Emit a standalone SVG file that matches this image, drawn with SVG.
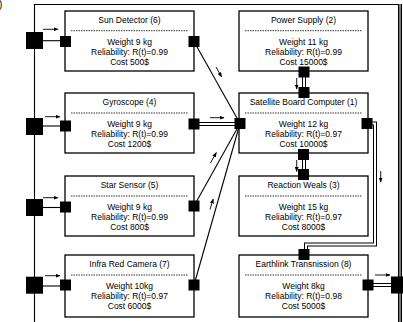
<svg xmlns="http://www.w3.org/2000/svg" width="403" height="322" viewBox="0 0 403 322">
  <style>
    .box { fill: #ffffff; stroke: #000000; stroke-width: 1.3; }
    .sep { stroke: #000000; stroke-width: 0.8; stroke-dasharray: 1.5 1; fill: none; }
    .port { fill: #000000; }
    .t { font-family: "Liberation Sans", Arial, sans-serif; font-size: 8.5px; fill: #000000; text-anchor: middle; }
    .wire { stroke: #000000; stroke-width: 1.1; fill: none; }
    .dbl-o { stroke: #000000; stroke-width: 4; fill: none; stroke-linejoin: miter; }
    .dbl-i { stroke: #ffffff; stroke-width: 2; fill: none; stroke-linejoin: miter; }
    .frame-i { stroke: #9a9a9a; stroke-width: 1.6; fill: none; }
    .dir { stroke: #000000; stroke-width: 0.9; fill: none; marker-end: url(#head); }
  </style>
  <defs>
    <marker id="head" markerUnits="userSpaceOnUse" markerWidth="5" markerHeight="4" refX="4.5" refY="2" orient="auto">
      <path d="M0,0 L5,2 L0,4 Z" fill="#000000"/>
    </marker>
  </defs>

  <rect width="403" height="322" fill="#ffffff"/>
  <text class="t" x="-1" y="8" style="font-size:10px;text-anchor:start">)</text>

  <!-- connectors -->
  <g id="connectors">
    <!-- enclosing bus -->
    <path class="wire" d="M34.5,322 V4.5 H400"/>
    <path class="dbl-o" d="M400,4 V322"/>
    <path class="frame-i" d="M400,4 V322"/>

    <!-- bus taps on the left -->
    <line class="wire" x1="43" y1="40.7" x2="60" y2="40.7"/>
    <line class="wire" x1="43" y1="126" x2="60" y2="126"/>
    <line class="wire" x1="43" y1="207.5" x2="60" y2="207.5"/>
    <line class="wire" x1="43" y1="286" x2="60" y2="286"/>

    <!-- sensors into the board computer -->
    <line class="wire" x1="194" y1="41.5" x2="240" y2="123.5"/>
    <line class="wire" x1="194" y1="206" x2="240" y2="123.5"/>
    <line class="wire" x1="194" y1="285" x2="240" y2="123.5"/>
    <line class="dbl-o" x1="194" y1="124" x2="240" y2="124"/>
    <line class="dbl-i" x1="194" y1="124" x2="240" y2="124"/>

    <!-- power supply / reaction wheels -->
    <line class="dbl-o" x1="304" y1="71.7" x2="304" y2="92.5"/>
    <line class="dbl-i" x1="304" y1="71.7" x2="304" y2="92.5"/>
    <line class="dbl-o" x1="304" y1="154.5" x2="304" y2="174.5"/>
    <line class="dbl-i" x1="304" y1="154.5" x2="304" y2="174.5"/>

    <!-- board computer to earthlink -->
    <path class="dbl-o" d="M367,123.5 H375 V244.5 H306 V254.5"/>
    <path class="dbl-i" d="M367,123.5 H375 V244.5 H306 V254.5"/>
    <line class="dbl-o" x1="368" y1="285" x2="399" y2="285"/>
    <line class="dbl-i" x1="368" y1="285" x2="399" y2="285"/>

    <!-- flow direction marks -->
    <line class="dir" x1="43" y1="29.3" x2="58" y2="29.3"/>
    <line class="dir" x1="45" y1="116.7" x2="60" y2="116.7"/>
    <line class="dir" x1="43" y1="197.7" x2="58" y2="197.7"/>
    <line class="dir" x1="45" y1="275.7" x2="60" y2="275.7"/>
    <line class="dir" x1="210" y1="117.7" x2="224" y2="117.7"/>
    <line class="dir" x1="216" y1="67" x2="221.6" y2="76.8"/>
    <line class="dir" x1="210.5" y1="163" x2="216.3" y2="152.5"/>
    <line class="dir" x1="210" y1="209.5" x2="213.2" y2="199"/>
    <line class="dir" x1="296.7" y1="78" x2="296.7" y2="89"/>
    <line class="dir" x1="296.7" y1="160" x2="296.7" y2="171.5"/>
    <line class="dir" x1="380.7" y1="171" x2="380.7" y2="182"/>
    <line class="dir" x1="375" y1="275" x2="390" y2="275"/>

    <!-- bus junction blocks -->
    <rect class="port" x="26" y="32" width="17" height="17"/>
    <rect class="port" x="26" y="118" width="17" height="17"/>
    <rect class="port" x="26" y="199" width="17" height="17"/>
    <rect class="port" x="26" y="276.7" width="17" height="17"/>
    <rect class="port" x="391" y="276.5" width="17" height="17"/>
  </g>

  <g id="sun-detector">
    <rect class="box" x="65" y="11" width="129" height="60"/>
    <text class="t" x="129.5" y="23">Sun Detector (6)</text>
    <line class="sep" x1="71" y1="30.7" x2="188" y2="30.7"/>
    <text class="t" x="129.5" y="44.7">Weight 9 kg</text>
    <text class="t" x="129.5" y="55">Reliability: R(t)=0.99</text>
    <text class="t" x="129.5" y="65">Cost 500$</text>
    <rect class="port" x="60" y="36" width="11" height="11"/>
    <rect class="port" x="188.5" y="36" width="11" height="11"/>
  </g>

  <g id="gyroscope">
    <rect class="box" x="65" y="93" width="129" height="60"/>
    <text class="t" x="129.5" y="105">Gyroscope (4)</text>
    <line class="sep" x1="71" y1="113" x2="188" y2="113"/>
    <text class="t" x="129.5" y="127">Weight 9 kg</text>
    <text class="t" x="129.5" y="137.3">Reliability: R(t)=0.99</text>
    <text class="t" x="129.5" y="147">Cost 1200$</text>
    <rect class="port" x="60" y="120.5" width="11" height="11"/>
    <rect class="port" x="188.5" y="118.5" width="11" height="11"/>
  </g>

  <g id="star-sensor">
    <rect class="box" x="65" y="176" width="129" height="60"/>
    <text class="t" x="129.5" y="188">Star Sensor (5)</text>
    <line class="sep" x1="71" y1="196" x2="188" y2="196"/>
    <text class="t" x="129.5" y="210">Weight 9 kg</text>
    <text class="t" x="129.5" y="220.3">Reliability: R(t)=0.99</text>
    <text class="t" x="129.5" y="230">Cost 800$</text>
    <rect class="port" x="60" y="201.5" width="11" height="11"/>
    <rect class="port" x="188.5" y="200.5" width="11" height="11"/>
  </g>

  <g id="infra-red-camera">
    <rect class="box" x="65" y="255" width="129" height="62"/>
    <text class="t" x="129.5" y="267">Infra Red Camera (7)</text>
    <line class="sep" x1="71" y1="275" x2="188" y2="275"/>
    <text class="t" x="129.5" y="289">Weight 10kg</text>
    <text class="t" x="129.5" y="299.3">Reliability: R(t)=0.97</text>
    <text class="t" x="129.5" y="309">Cost 6000$</text>
    <rect class="port" x="60" y="279.5" width="11" height="11"/>
    <rect class="port" x="188.5" y="279.5" width="11" height="11"/>
  </g>

  <g id="power-supply">
    <rect class="box" x="239" y="11" width="129" height="60"/>
    <text class="t" x="303.5" y="23">Power Supply (2)</text>
    <line class="sep" x1="245" y1="30.7" x2="362" y2="30.7"/>
    <text class="t" x="303.5" y="44.7">Weight 11 kg</text>
    <text class="t" x="303.5" y="55">Reliability: R(t)=0.99</text>
    <text class="t" x="303.5" y="65">Cost 15000$</text>
    <rect class="port" x="298.5" y="66.5" width="11" height="11"/>
  </g>

  <g id="satellite-board-computer">
    <rect class="box" x="239" y="93" width="129" height="60"/>
    <text class="t" x="303.5" y="105">Satellite Board Computer (1)</text>
    <line class="sep" x1="245" y1="113" x2="362" y2="113"/>
    <text class="t" x="303.5" y="127">Weight 12 kg</text>
    <text class="t" x="303.5" y="137.3">Reliability: R(t)=0.97</text>
    <text class="t" x="303.5" y="147">Cost 10000$</text>
    <rect class="port" x="298.5" y="87" width="11" height="11"/>
    <rect class="port" x="234.5" y="118" width="11" height="11"/>
    <rect class="port" x="361.5" y="118" width="11" height="11"/>
    <rect class="port" x="298" y="149" width="11" height="11"/>
  </g>

  <g id="reaction-wheels">
    <rect class="box" x="239" y="176" width="129" height="60"/>
    <text class="t" x="303.5" y="188">Reaction Weals (3)</text>
    <line class="sep" x1="245" y1="196" x2="362" y2="196"/>
    <text class="t" x="303.5" y="210">Weight 15 kg</text>
    <text class="t" x="303.5" y="220.3">Reliability: R(t)=0.97</text>
    <text class="t" x="303.5" y="230">Cost 8000$</text>
    <rect class="port" x="298" y="169" width="11" height="11"/>
  </g>

  <g id="earthlink-transmission">
    <rect class="box" x="239" y="255" width="129" height="62"/>
    <text class="t" x="303.5" y="267">Earthlink Transnission (8)</text>
    <line class="sep" x1="245" y1="275" x2="362" y2="275"/>
    <text class="t" x="303.5" y="289">Weight 8kg</text>
    <text class="t" x="303.5" y="299.3">Reliability: R(t)=0.98</text>
    <text class="t" x="303.5" y="309">Cost 5000$</text>
    <rect class="port" x="298.5" y="249" width="11" height="11"/>
    <rect class="port" x="362.5" y="279.5" width="11" height="11"/>
  </g>
</svg>
